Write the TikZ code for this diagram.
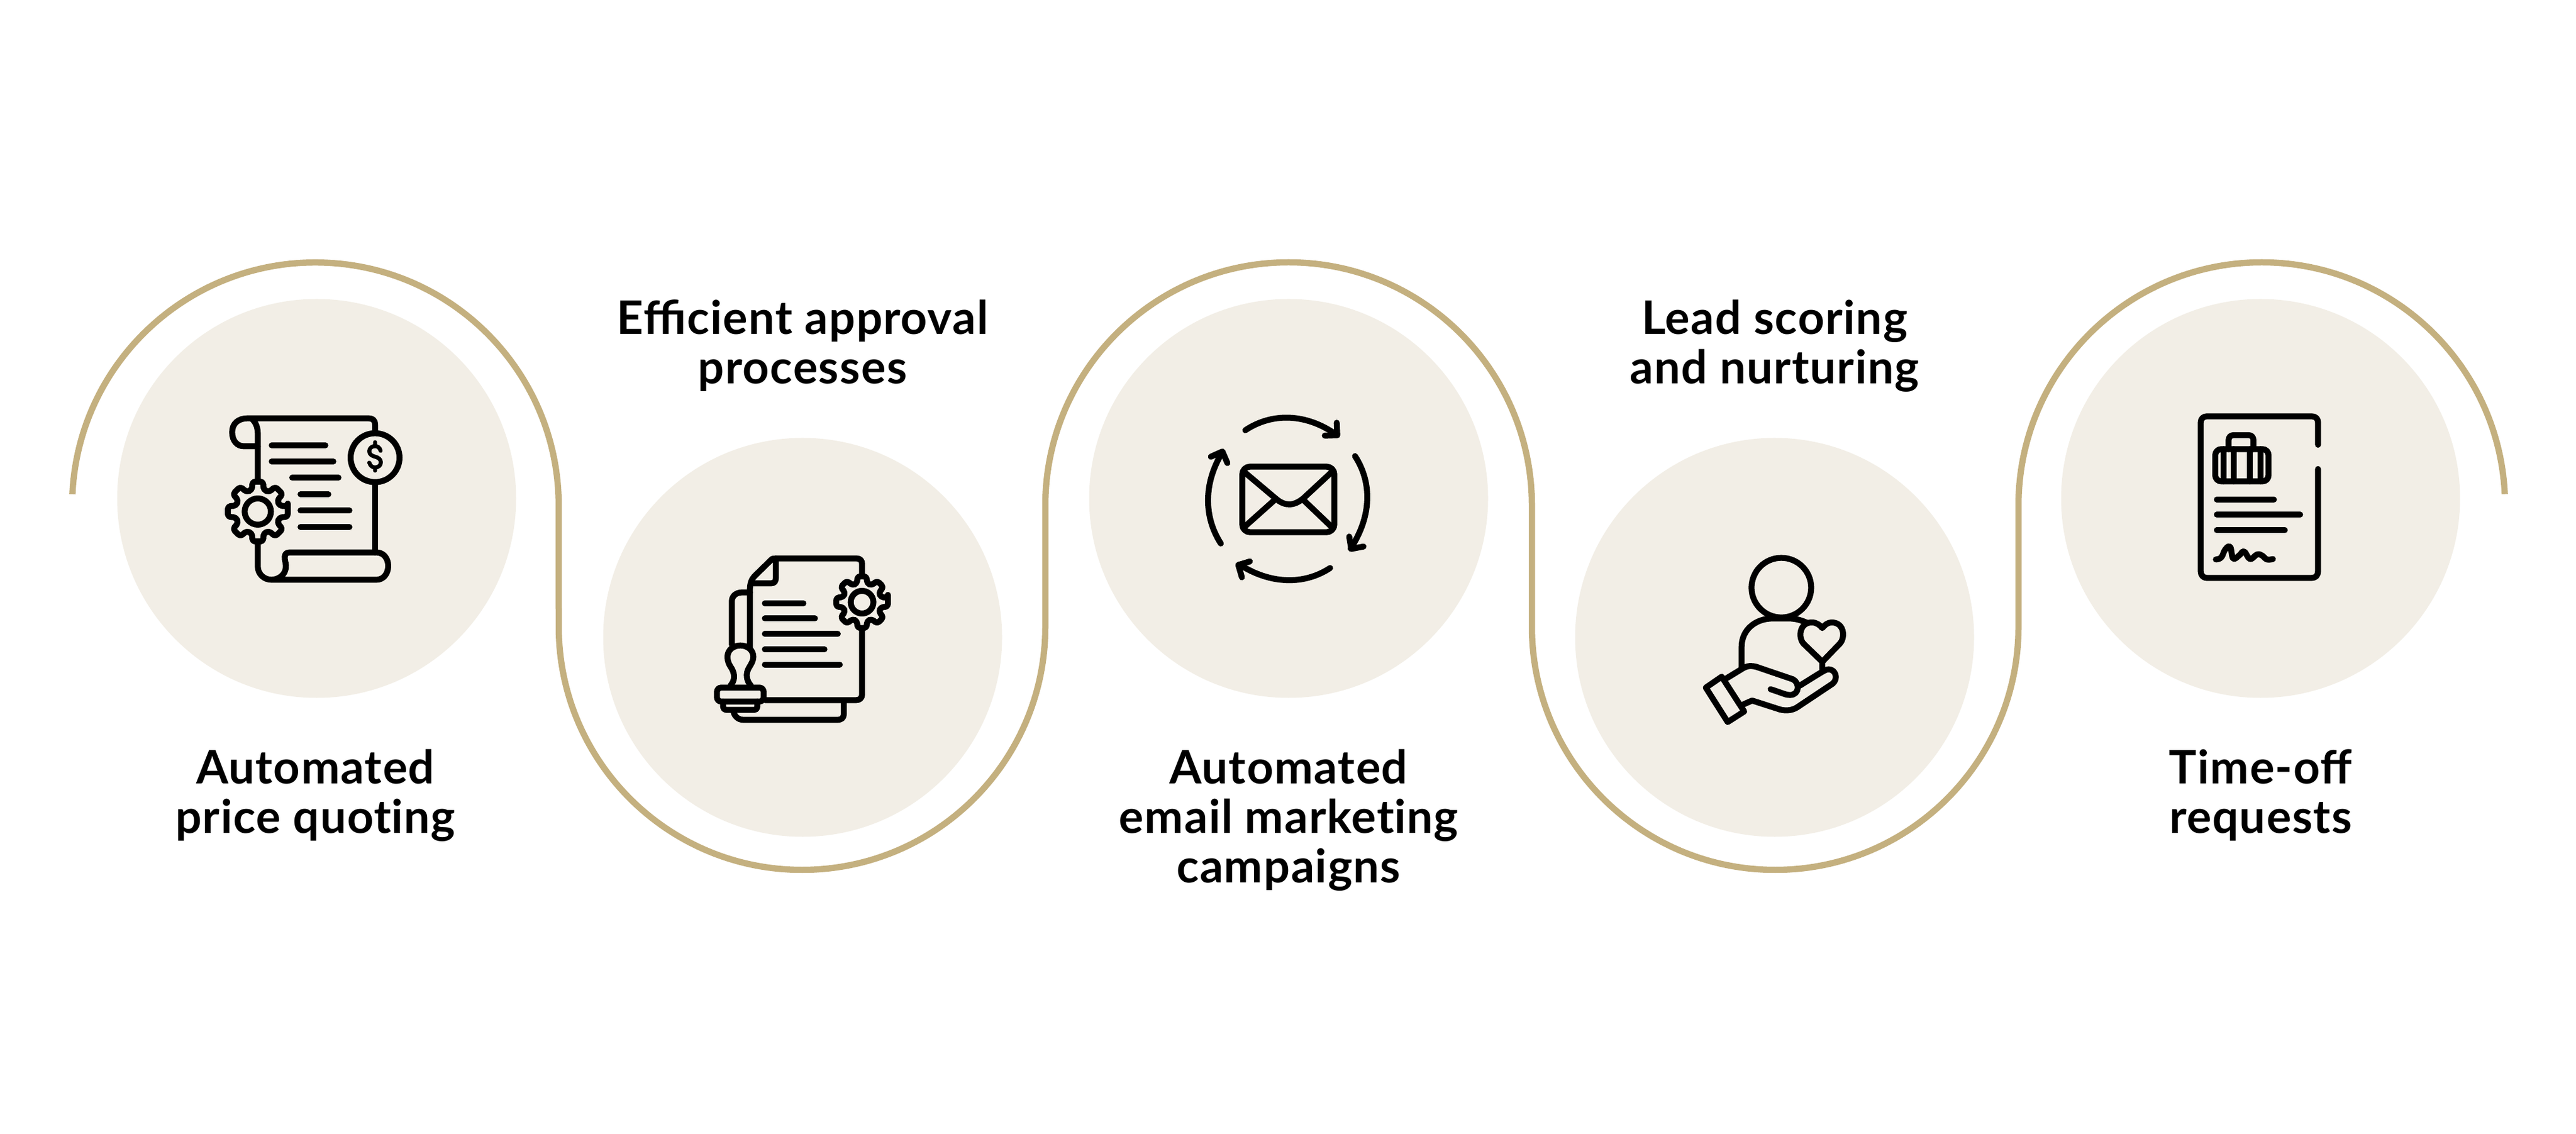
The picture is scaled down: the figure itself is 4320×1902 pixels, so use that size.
\documentclass[tikz,border=0pt]{standalone}
\usepackage{fontspec}
\setmainfont{Lato}[LetterSpace=2.0]
\definecolor{bubble}{HTML}{F2EEE6}
\definecolor{gold}{HTML}{C4B07F}
\newcommand{\gearshape}[4]{% cx cy R inner
  \draw[rounded corners=0.9pt] (#1,#2) ++(-10:#3)
    foreach \a in {0,45,...,315}{ -- ($(#1,#2)+(\a-10:#3)$) -- ($(#1,#2)+(\a+10:#3)$) -- ($(#1,#2)+(\a+15:0.74*#3)$) -- ($(#1,#2)+(\a+30:0.74*#3)$) } -- cycle;
  \draw (#1,#2) circle (#4);
}
\usetikzlibrary{calc}
\tikzset{
  bub/.style={circle,fill=bubble,draw=none,minimum size=133.8pt,inner sep=0pt},
  lab/.style={font=\fontsize{15.5}{16.6}\selectfont\bfseries,align=center,text=black,inner sep=0pt},
  icon/.style={x=0.0666667pt,y=-0.0666667pt,draw=black,line width=2pt,line cap=round,line join=round},
}
\begin{document}
\begin{tikzpicture}[x=0.2pt,y=-0.2pt]
\useasboundingbox (0,0) rectangle (4320,1902);
\node[bub] (c1) at (531,836) {};
\node[bub] (c2) at (1346,1069) {};
\node[bub] (c3) at (2161,836) {};
\node[bub] (c4) at (2976,1069) {};
\node[bub] (c5) at (3791,836) {};
% ribbon
\draw[gold,line width=2.1pt] (121.4,829) arc (182.7:360:408) -- (937,1051)
  arc (180:0:408) -- (1753,848) arc (180:360:408) -- (2569,1051)
  arc (180:0:408) -- (3385,848) arc (180:357.3:408);
% labels
\node[lab,anchor=center] (t1) at (529,1334) {Automated\\price quot\kern0pt ing};
\node[lab,anchor=center] (t2) at (1346,580) {Efficient approval\\processes};
\node[lab,anchor=center] (t3) at (2161,1376) {Automated\\email market\kern0pt ing\\campaigns};
\node[lab,anchor=center] (t4) at (2976,580) {Lead scoring\\and nurturing};
\node[lab,anchor=center] (t5) at (3791,1334) {Time-off\\requests};
% icon 1
\begin{scope}[shift={(340,660)},icon]
\draw (867,190) -- (867,157) .. controls (867,135) and (855,125) .. (835,125) -- (225,125) .. controls (180,125) and (148,150) .. (148,195) .. controls (148,240) and (175,265) .. (205,265) -- (277,265);
\draw (250,130) .. controls (270,150) and (277,175) .. (277,205) -- (277,430);
\draw (867,323) circle (123);
\draw (867,460) -- (867,800);
\draw[line width=1.35pt] (867,245)--(867,265) (867,372)--(867,388)
 (895,288) .. controls (890,272) and (880,265) .. (867,265) .. controls (850,265) and (838,275) .. (838,291) .. controls (838,307) and (852,314) .. (867,318) .. controls (882,322) and (896,330) .. (896,346) .. controls (896,362) and (884,372) .. (867,372) .. controls (854,372) and (843,365) .. (838,348);
\draw (347,260)--(617,260) (347,342)--(657,342) (450,424)--(683,424) (492,507)--(632,507) (492,589)--(738,589) (492,671)--(738,671);
\gearshape{277}{594}{153}{66}
\draw (277,748) -- (277,870) .. controls (277,910) and (310,937) .. (345,937) -- (875,937) .. controls (910,937) and (933,905) .. (933,868) .. controls (933,830) and (910,800) .. (875,800) -- (435,800) .. controls (415,800) and (410,815) .. (413,835) .. controls (418,860) and (422,870) .. (415,890) .. controls (408,915) and (380,937) .. (345,937);
\end{scope}
% icon 2
\begin{scope}[shift={(1170,900)},icon]
\draw (263,560) -- (263,265) .. controls (263,240) and (270,215) .. (285,200) -- (375,112) .. controls (385,110) and (395,110) .. (410,110) -- (800,110) .. controls (817,110) and (827,120) .. (827,137) -- (827,185);
\draw (393,110) -- (393,210) .. controls (393,226) and (385,235) .. (370,235) -- (270,235);
\gearshape{827}{330}{132}{57}
\draw (827,475) -- (827,795) .. controls (827,812) and (815,823) .. (797,823) -- (340,823);
\draw (172,545) -- (172,325) .. controls (172,298) and (195,281) .. (222,281) -- (263,281);
\draw (735,830) -- (735,895) .. controls (735,912) and (722,922) .. (705,922) -- (230,922) .. controls (205,922) and (185,905) .. (180,880);
\draw (165,750) .. controls (185,725) and (190,700) .. (172,665) .. controls (155,640) and (150,625) .. (150,605) .. controls (150,570) and (180,548) .. (215,548) .. controls (250,548) and (280,570) .. (280,605) .. controls (280,625) and (270,640) .. (258,660) .. controls (240,690) and (245,725) .. (268,750);
\draw[rounded corners=1.4pt] (97,760) rectangle (332,830);
\draw[rounded corners=1pt] (128,830) -- (128,872) -- (300,872) -- (300,830);
\draw (338,335)--(532,335) (338,412)--(590,412) (338,490)--(705,490) (338,567)--(638,567) (338,644)--(715,644);
\end{scope}
% icon 3
\begin{scope}[shift={(1990,660)},icon]
\draw[rounded corners=2.6pt] (280,368) rectangle (743,698);
\draw (290,395) -- (450,530) .. controls (495,568) and (540,568) .. (590,525) -- (730,395);
\draw (290,672) -- (440,538) (590,538) -- (730,672);
\draw (295,185) .. controls (430,95) and (600,100) .. (750,205);
\draw (755,147)--(758,210)--(695,212);
\draw (847,315) .. controls (935,450) and (930,620) .. (825,780);
\draw (818,720)--(828,782)--(890,770);
\draw (722,878) .. controls (590,965) and (420,960) .. (265,860);
\draw (318,845)--(260,863)--(278,925);
\draw (172,755) .. controls (85,620) and (85,450) .. (180,295);
\draw (122,318)--(180,292)--(205,350);
\end{scope}
% icon 4
\begin{scope}[shift={(2810,900)},icon]
\draw (532,257) circle (150);
\draw (332,660) -- (332,555) .. controls (332,470) and (400,412) .. (490,412) -- (570,412) .. controls (610,412) and (640,425) .. (665,435);
\draw (738,630) -- (645,540) .. controls (615,510) and (622,432) .. (685,432) .. controls (710,432) and (725,445) .. (738,460) .. controls (750,445) and (765,432) .. (785,432) .. controls (850,432) and (855,510) .. (825,540) -- cycle;
\draw (738,630) -- (738,668);
\draw (152,760) -- (232,705) -- (345,880) -- (262,933) -- cycle;
\draw (258,712) -- (340,662) .. controls (365,648) and (385,650) .. (405,655) -- (590,718) .. controls (625,735) and (625,797) .. (575,797) .. controls (555,797) and (545,790) .. (478,768);
\draw (340,845) -- (385,825) -- (525,870) .. controls (555,878) and (585,875) .. (610,860) -- (790,740) .. controls (820,715) and (805,668) .. (770,668) .. controls (755,668) and (745,675) .. (625,750);
\end{scope}
% icon 5
\begin{scope}[shift={(3630,670)},icon]
\draw (772,228) -- (772,115) .. controls (772,97) and (760,85) .. (740,85) -- (213,85) .. controls (195,85) and (182,97) .. (182,115) -- (182,865) .. controls (182,885) and (195,898) .. (213,898) -- (740,898) .. controls (760,898) and (772,885) .. (772,865) -- (772,350);
\draw[rounded corners=2pt] (255,250) rectangle (523,412);
\draw (322,250) -- (322,205) .. controls (322,190) and (332,180) .. (345,180) -- (425,180) .. controls (438,180) and (447,190) .. (447,205) -- (447,250);
\draw (298,250)--(298,412) (348,250)--(348,412) (430,250)--(430,412) (482,250)--(482,412);
\draw (263,503)--(550,503) (263,580)--(682,580) (263,658)--(605,658);
\draw plot[smooth,tension=0.7] coordinates {(258,805) (285,795) (305,755) (330,742) (345,800) (375,785) (400,765) (430,803) (465,780) (490,785) (515,805) (545,803)};
\end{scope}
\end{tikzpicture}
\end{document}
